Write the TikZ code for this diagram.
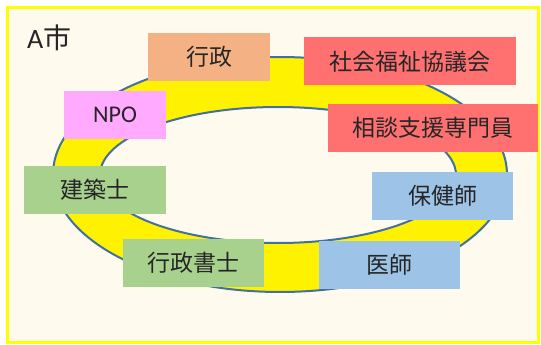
\documentclass[tikz,border=0pt]{standalone}
\usepackage{fontspec}
\setmainfont{Carlito}
\newfontfamily\jp{Noto Sans CJK JP}
\definecolor{bgcream}{HTML}{FFF9EE}
\definecolor{ringblue}{HTML}{41719C}
\definecolor{cOrange}{HTML}{F4B183}
\definecolor{cPink}{HTML}{FFAAFF}
\definecolor{cRed}{HTML}{FF7171}
\definecolor{cGreen}{HTML}{A9D18E}
\definecolor{cBlue}{HTML}{9DC3E6}
\definecolor{txt}{HTML}{262626}
\definecolor{bordery}{HTML}{FFFF00}
\begin{document}
\begin{tikzpicture}[x=1pt,y=-1pt,
  box/.style={draw=none,inner sep=0pt,minimum height=48pt,text=txt,font=\jp\fontsize{23}{26}\selectfont},
]
\useasboundingbox (0,0) rectangle (541,345);
\fill[white] (0,0) rectangle (541,345);
\draw[bordery,line width=3pt,fill=bgcream] (7,7.5) rectangle (538,342);
% ring
\filldraw[ringblue,line width=2pt,fill=yellow,even odd rule]
  (280,174.5) ellipse [x radius=227, y radius=117.5]
  (278,175) ellipse [x radius=178, y radius=68];
\node[anchor=west,text=txt,inner sep=0pt] (city) at (27,38) {\fontsize{28}{30}\selectfont A{\jp 市}};
\node[box,fill=cOrange,minimum width=122pt] (gyosei) at (209,57) {行政};
\node[box,fill=cPink,minimum width=102pt,font=\fontsize{24}{26}\selectfont] (npo) at (115,115) {NPO};
\node[box,fill=cRed,minimum width=212pt] (shakyo) at (410,61.5) {社会福祉協議会};
\node[box,fill=cRed,minimum width=210pt] (soudan) at (433,127.5) {相談支援専門員};
\node[box,fill=cGreen,minimum width=142pt] (kenchiku) at (95,190) {建築士};
\node[box,fill=cGreen,minimum width=141pt] (shoshi) at (193.5,262.5) {行政書士};
\node[box,fill=cBlue,minimum width=141pt] (hoken) at (442.5,195.5) {保健師};
\node[box,fill=cBlue,minimum width=141pt] (ishi) at (389.5,264.5) {医師};
\end{tikzpicture}
\end{document}
